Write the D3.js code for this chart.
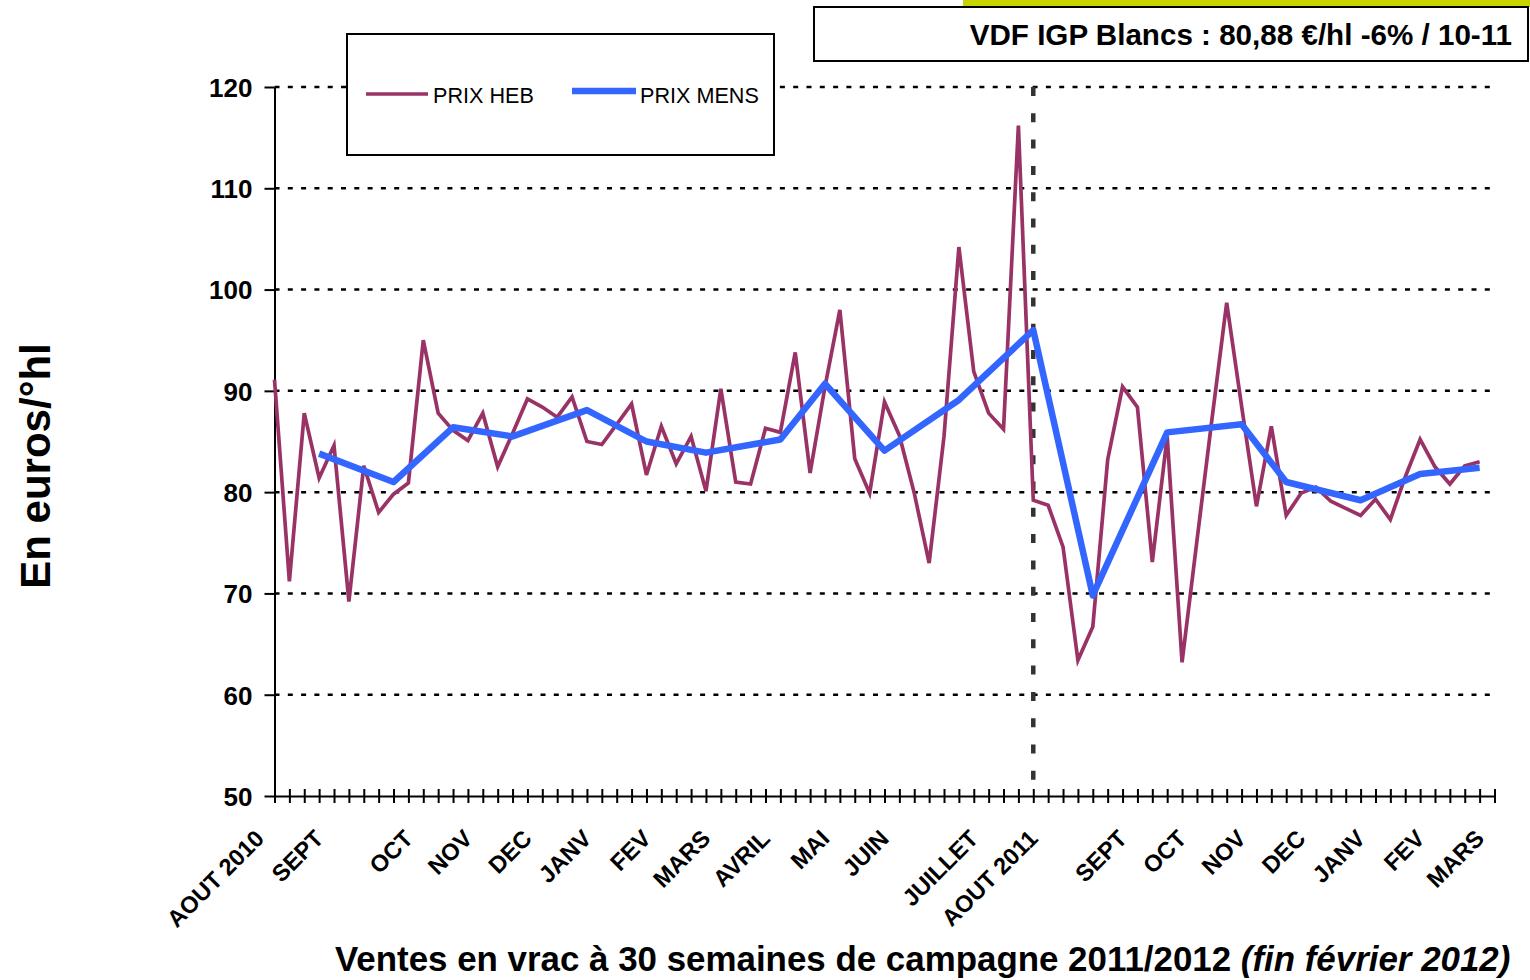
<!DOCTYPE html>
<html lang="fr">

<head>
    <meta charset="UTF-8">
    <meta name="viewport" content="width=device-width, initial-scale=1.0">
    <script src="https://cdnjs.cloudflare.com/ajax/libs/d3/7.8.5/d3.min.js"></script>
    <title>VDF IGP Blancs</title>
    <style>
        body { margin: 0; background: #fff; }
        text { font-family: "Liberation Sans", Arial, sans-serif; }
    </style>
</head>

<body>
    <div id="content"></div>
</body>
<script>
    // weekly price (PRIX HEB), one value per week from AOUT 2010
    const prixHeb = [
        91.1, 71.2, 87.8, 81.4, 84.6, 69.2, 82.6, 78.0, 79.8, 80.9,
        95.0, 87.8, 86.1, 85.1, 87.8, 82.5, 85.8, 89.2, 88.4, 87.4,
        89.4, 85.0, 84.7, 86.7, 88.7, 81.7, 86.5, 82.8, 85.5, 80.1,
        90.2, 81.0, 80.8, 86.3, 85.9, 93.8, 81.9, 90.4, 98.0, 83.3,
        79.9, 88.9, 85.6, 79.9, 73.0, 85.5, 104.2, 91.9, 87.8, 86.2,
        116.2, 79.2, 78.7, 74.6, 63.4, 66.7, 83.2, 90.4, 88.4, 73.1,
        85.5, 63.2, 75.2, 87.1, 98.7, 88.5, 78.6, 86.5, 77.7, 79.9,
        80.5, 79.1, 78.4, 77.7, 79.3, 77.3, 81.5, 85.2, 82.5, 80.8,
        82.6, 83.0
    ]
    // monthly price (PRIX MENS): week index and value
    const mensWeeks = [3, 8, 12, 16, 21, 25, 29, 34, 37, 41, 46, 51, 55, 60, 65, 68, 73, 77, 81]
    const mensValues = [83.8, 81.0, 86.4, 85.5, 88.1, 85.0, 83.9, 85.2, 90.7, 84.1, 89.1, 96.0, 69.8, 85.9, 86.7, 81.0, 79.2, 81.8, 82.4]
    // category labels on the x axis
    const labelWeeks = [0, 4, 10, 14, 18, 22, 26, 30, 34, 38, 42, 48, 52, 58, 62, 66, 70, 74, 78, 82]
    const labelTexts = ['AOUT 2010', 'SEPT', 'OCT', 'NOV', 'DEC', 'JANV', 'FEV', 'MARS', 'AVRIL', 'MAI', 'JUIN',
        'JUILLET', 'AOUT 2011', 'SEPT', 'OCT', 'NOV', 'DEC', 'JANV', 'FEV', 'MARS']
    const yTicks = [50, 60, 70, 80, 90, 100, 110, 120]
    const nWeeks = 83
    const campaignWeek = 51

    const width = 1530;
    const height = 980;
    const plotLeft = 274.5;
    const plotRight = 1494.5;
    const plotTop = 87;
    const plotBottom = 796;

    const xScale = d3.scaleLinear().domain([0, nWeeks - 1]).range([plotLeft, plotRight])
    const yScale = d3.scaleLinear().domain([50, 120]).range([plotBottom, plotTop])

    const svg = d3.select('#content')
        .append('svg')
        .attr('width', width)
        .attr('height', height);

    //-Grid
    svg.append('g')
        .selectAll('line')
        .data(yTicks.filter(v => v > 50))
        .enter()
        .append('line')
        .attr('x1', plotLeft)
        .attr('x2', plotRight)
        .attr('y1', v => yScale(v))
        .attr('y2', v => yScale(v))
        .style('stroke', '#000')
        .style('stroke-width', 2.5)
        .style('stroke-dasharray', '5,8.3');

    //-Campaign separator
    svg.append('line')
        .attr('x1', xScale(campaignWeek))
        .attr('x2', xScale(campaignWeek))
        .attr('y1', plotTop)
        .attr('y2', plotBottom)
        .style('stroke', '#333')
        .style('stroke-width', 4.5)
        .style('stroke-dasharray', '9,17.3');

    //-Axis
    //--Axis Y
    const yAxis = svg.append('g')
        .attr('transform', `translate(${plotLeft},0)`)
        .call(d3.axisLeft(yScale).tickValues(yTicks).tickSize(10).tickSizeOuter(0).tickPadding(12))
    yAxis.selectAll('line, path').style('stroke', '#000').style('stroke-width', 2)
    yAxis.selectAll('text')
        .attr('font-size', null)
        .attr('font-family', null)
        .style('font-size', '26px')
        .style('font-weight', 'bold')
        .attr('dy', '0.36em')
    //--Axis X
    const xAxis = svg.append('g')
        .attr('transform', `translate(0,${plotBottom})`)
        .call(d3.axisBottom(xScale).tickValues(d3.range(nWeeks)).tickFormat('').tickSizeOuter(0))
    xAxis.selectAll('path').style('stroke', '#000').style('stroke-width', 2)
    xAxis.selectAll('.tick line')
        .attr('y1', -7)
        .attr('y2', 7)
        .style('stroke', '#000')
        .style('stroke-width', 2)
    //--Labels
    svg.append('g')
        .selectAll('text')
        .data(labelWeeks)
        .enter()
        .append('text')
        .attr('transform', (w, i) => `translate(${xScale(w) - 9},840) rotate(-45)`)
        .attr('text-anchor', 'end')
        .style('font-size', '23.5px')
        .style('font-weight', 'bold')
        .text((w, i) => labelTexts[i]);

    //-Lines
    const hebLine = d3.line()
        .x((v, i) => xScale(i))
        .y(v => yScale(v))
    svg.append('path')
        .datum(prixHeb)
        .attr('d', hebLine)
        .style('fill', 'none')
        .style('stroke', '#993366')
        .style('stroke-width', 3.7)
        .style('stroke-linejoin', 'miter');

    const mensLine = d3.line()
        .x((v, i) => xScale(mensWeeks[i]))
        .y(v => yScale(v))
    svg.append('path')
        .datum(mensValues)
        .attr('d', mensLine)
        .style('fill', 'none')
        .style('stroke', '#3366FF')
        .style('stroke-width', 6.5)
        .style('stroke-linejoin', 'round');

    //--Axis titles
    svg.append('text')
        .text('En euros/°hl')
        .attr('transform', 'translate(50,466) rotate(-90)')
        .attr('text-anchor', 'middle')
        .style('font-size', '42px')
        .style('font-weight', 'bold');
    const xTitle = svg.append('text')
        .attr('x', 335)
        .attr('y', 971)
        .style('font-size', '34.9px')
        .style('font-weight', 'bold')
    xTitle.append('tspan').text('Ventes en vrac à 30 semaines de campagne 2011/2012 ')
    xTitle.append('tspan').style('font-style', 'italic').text('(fin février 2012)')

    //-Legend
    const legend = svg.append('g').attr('id', 'legend')
    legend.append('rect')
        .attr('x', 347)
        .attr('y', 34)
        .attr('width', 427)
        .attr('height', 121)
        .style('fill', '#fff')
        .style('stroke', '#000')
        .style('stroke-width', 2)
    legend.append('line')
        .attr('x1', 366).attr('x2', 428).attr('y1', 94).attr('y2', 94)
        .style('stroke', '#993366').style('stroke-width', 3.7)
    legend.append('text')
        .attr('x', 433).attr('y', 103)
        .style('font-size', '21.6px')
        .text('PRIX HEB')
    legend.append('line')
        .attr('x1', 572).attr('x2', 636).attr('y1', 91).attr('y2', 91)
        .style('stroke', '#3366FF').style('stroke-width', 6.5)
    legend.append('text')
        .attr('x', 640).attr('y', 103)
        .style('font-size', '21.6px')
        .text('PRIX MENS')

    //-Title box
    svg.append('rect')
        .attr('x', 963)
        .attr('y', 0)
        .attr('width', 567)
        .attr('height', 7)
        .style('fill', '#c8d400')
    svg.append('rect')
        .attr('x', 814)
        .attr('y', 7)
        .attr('width', 714)
        .attr('height', 54)
        .style('fill', 'none')
        .style('stroke', '#000')
        .style('stroke-width', 2)
    svg.append('text')
        .text('VDF IGP Blancs : 80,88 €/hl -6% / 10-11')
        .attr('x', 1512)
        .attr('y', 45)
        .attr('text-anchor', 'end')
        .style('font-size', '29.6px')
        .style('font-weight', 'bold');
</script>

</html>
